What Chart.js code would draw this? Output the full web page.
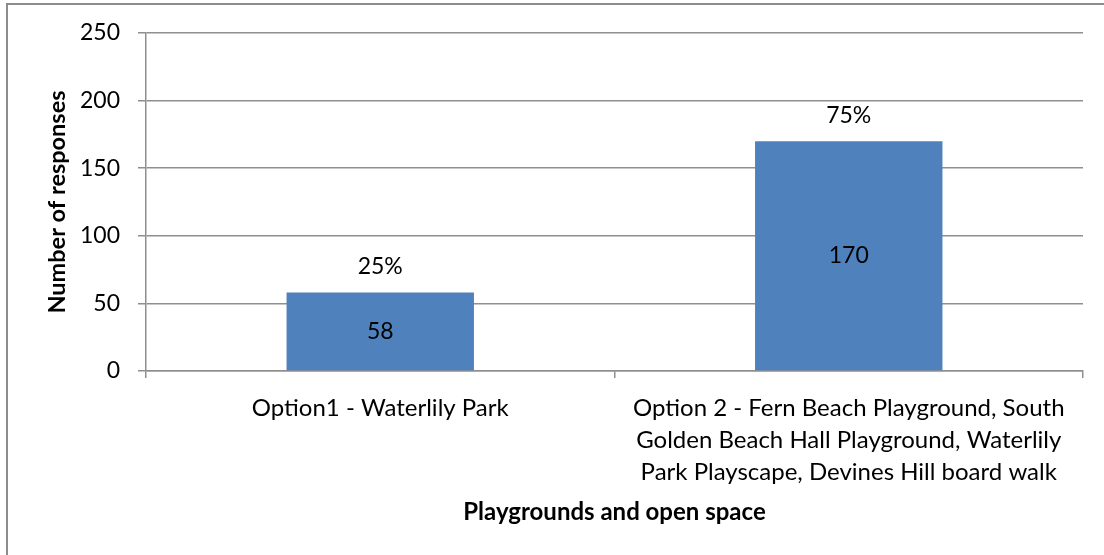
<!DOCTYPE html>
<html>
<head>
<meta charset="utf-8">
<script src="https://cdn.jsdelivr.net/npm/chart.js@4"></script>
<style>
  html, body { margin: 0; padding: 0; background: #fff; }
  #wrap { position: relative; width: 1104px; height: 555px; }
</style>
</head>
<body>
<div id="wrap"><canvas id="chart"></canvas></div>
<script>
const categories = [
    'Option1 - Waterlily Park',
    ['Option 2 - Fern Beach Playground, South', 'Golden Beach Hall Playground, Waterlily', 'Park Playscape, Devines Hill board walk']
];
const responses = [58, 170];
const shares = ['25%', '75%'];
const yTicks = [0, 50, 100, 150, 200, 250];

const ctx = document.getElementById('chart');
const fontName = 'Lato, "Open Sans", sans-serif';
const lineGrey = '#8f8f8f';

// frame round the chart and the bar labels
const framePlugin = {
    id: 'frame',
    beforeDraw(chart) {
        const c = chart.ctx;
        c.save();
        c.fillStyle = '#fff';
        c.fillRect(0, 0, chart.width, chart.height);
        c.strokeStyle = '#8c8c8c';
        c.lineWidth = 2;
        c.beginPath();
        c.moveTo(7, chart.height);
        c.lineTo(7, 4);
        c.lineTo(chart.width, 4);
        c.stroke();
        c.restore();
    }
};

const labelPlugin = {
    id: 'barLabels',
    afterDatasetsDraw(chart) {
        const c = chart.ctx;
        const meta = chart.getDatasetMeta(0);
        c.save();
        c.font = '23px ' + fontName;
        c.fillStyle = '#000';
        c.textAlign = 'center';
        c.textBaseline = 'middle';
        meta.data.forEach(function (bar, i) {
            c.fillText(String(responses[i]), bar.x, (bar.y + bar.base) / 2);
            c.fillText(shares[i], bar.x, bar.y - 26);
        });
        c.restore();
    }
};

new Chart(ctx, {
    type: 'bar',
    data: {
        labels: categories,
        datasets: [{
            data: responses,
            backgroundColor: '#4f81bd',
            borderWidth: 0,
            categoryPercentage: 1,
            barPercentage: 0.4,
        }]
    },
    options: {
        responsive: true,
        maintainAspectRatio: false,
        animation: false,
        layout: { padding: { left: 10, right: 21, top: 33, bottom: 0 } },
        plugins: {
            legend: { display: false },
            tooltip: { enabled: false },
        },
        scales: {
            x: {
                offset: true,
                grid: { offset: true, drawOnChartArea: false, drawTicks: true, tickLength: 7, color: lineGrey, lineWidth: 1.5 },
                border: { color: lineGrey, width: 1.5 },
                ticks: { color: '#000', font: { family: fontName, size: 24, lineHeight: 1.33 }, padding: 14, maxRotation: 0 },
                title: { display: true, text: 'Playgrounds and open space', color: '#000', font: { family: fontName, size: 24, weight: 'bold' }, padding: 28 },
                afterFit(scale) { scale.height = 555 - 371; },
            },
            y: {
                min: 0,
                max: 250,
                afterBuildTicks(scale) { scale.ticks = yTicks.map(v => ({ value: v })); },
                grid: { color: lineGrey, lineWidth: 1.5, tickLength: 8 },
                border: { color: lineGrey, width: 1.5 },
                ticks: { color: '#000', font: { family: fontName, size: 23 }, padding: 18 },
                title: { display: true, text: 'Number of responses', color: '#000', font: { family: fontName, size: 23.5, weight: 'bold' }, padding: 33 },
                afterFit(scale) { scale.width = 136; },
            }
        }
    },
    plugins: [framePlugin, labelPlugin]
});
</script>
</body>
</html>
